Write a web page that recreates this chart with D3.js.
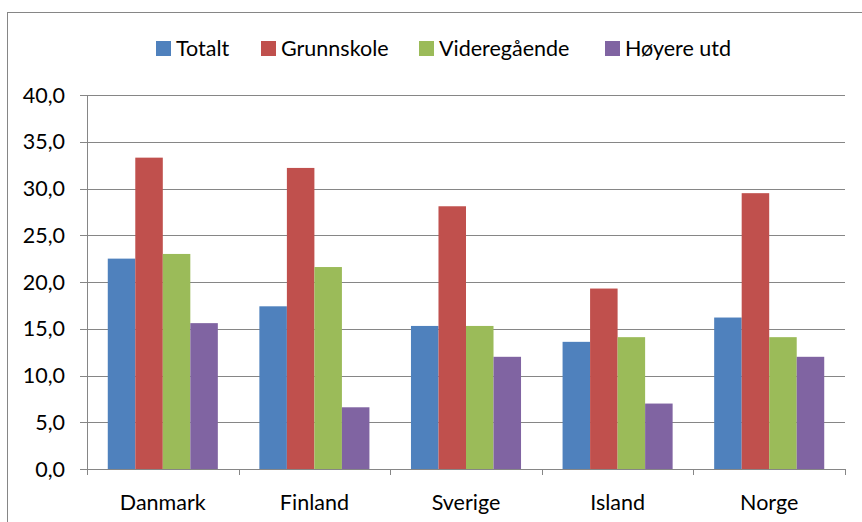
<!DOCTYPE html>
<html>
<head>
<meta charset="utf-8">
<script src="https://cdn.jsdelivr.net/npm/d3@7"></script>
<style>
  body { margin: 0; background: #fff; }
  text { font-family: Lato, "Open Sans", sans-serif; fill: #000; }
</style>
</head>
<body>
<svg id="chart" width="862" height="522"></svg>
<script>
// data
const countries = ['Danmark', 'Finland', 'Sverige', 'Island', 'Norge'];
const seriesNames = ['Totalt', 'Grunnskole', 'Videregående', 'Høyere utd'];
const totalt     = [22.5, 17.4, 15.3, 13.6, 16.2];
const grunnskole = [33.3, 32.2, 28.1, 19.3, 29.5];
const videregaende = [23.0, 21.6, 15.3, 14.1, 14.1];
const hoyere     = [15.6, 6.6, 12.0, 7.0, 12.0];
const yTicks = [0, 5, 10, 15, 20, 25, 30, 35, 40];

const colors = ['#4F81BD', '#C0504D', '#9BBB59', '#8064A2'];
const allSeries = [totalt, grunnskole, videregaende, hoyere];

const svg = d3.select('#chart');
const margin = { top: 95, left: 87, right: 17, bottom: 53 };
const width = 862, height = 522;
const fontSize = '21.5px';

// outer chart frame (cut off on right and bottom like the screenshot)
svg.append('rect')
  .attr('x', 7.5).attr('y', 12.5)
  .attr('width', 900).attr('height', 600)
  .attr('fill', 'none').attr('stroke', '#868686');

const x = d3.scaleBand()
  .domain(countries)
  .range([margin.left, width - margin.right]);

const y = d3.scaleLinear()
  .domain([0, 40])
  .range([height - margin.bottom, margin.top]);

const inner = d3.scaleBand()
  .domain(seriesNames)
  .range([0, x.bandwidth() * 0.726]);
const offset = x.bandwidth() * (1 - 0.726) / 2;

// gridlines
svg.append('g')
  .selectAll('line')
  .data(yTicks)
  .join('line')
    .attr('x1', margin.left - 7)
    .attr('x2', width - margin.right)
    .attr('y1', d => Math.round(y(d)) + 0.5)
    .attr('y2', d => Math.round(y(d)) + 0.5)
    .attr('stroke', '#868686')
    .attr('stroke-width', 1);

// y labels
svg.append('g')
  .selectAll('text')
  .data(yTicks)
  .join('text')
    .attr('x', margin.left - 22)
    .attr('y', d => y(d))
    .attr('dy', '0.35em')
    .attr('text-anchor', 'end')
    .style('font-size', fontSize)
    .text(d => d3.format('.1f')(d).replace('.', ','));

// bars
const groups = svg.append('g')
  .selectAll('g')
  .data(countries)
  .join('g')
    .attr('transform', d => `translate(${x(d) + offset},0)`);

groups.selectAll('rect')
  .data((d, i) => seriesNames.map((s, j) => ({ s: s, v: allSeries[j][i], c: colors[j] })))
  .join('rect')
    .attr('x', d => inner(d.s))
    .attr('width', inner.bandwidth())
    .attr('y', d => y(d.v))
    .attr('height', d => y(0) - y(d.v))
    .attr('fill', d => d.c);

// y axis line
svg.append('line')
  .attr('x1', margin.left + 0.5).attr('x2', margin.left + 0.5)
  .attr('y1', margin.top).attr('y2', y(0) + 6)
  .attr('stroke', '#868686');

// x axis line and ticks
svg.append('line')
  .attr('x1', margin.left).attr('x2', width - margin.right)
  .attr('y1', Math.round(y(0)) + 0.5).attr('y2', Math.round(y(0)) + 0.5)
  .attr('stroke', '#868686');

const boundaries = countries.map(d => x(d)).concat([x(countries[countries.length - 1]) + x.bandwidth()]);
svg.append('g')
  .selectAll('line')
  .data(boundaries)
  .join('line')
    .attr('x1', d => Math.round(d) + 0.5)
    .attr('x2', d => Math.round(d) + 0.5)
    .attr('y1', y(0))
    .attr('y2', y(0) + 6)
    .attr('stroke', '#868686');

// category labels
svg.append('g')
  .selectAll('text')
  .data(countries)
  .join('text')
    .attr('x', d => x(d) + x.bandwidth() / 2)
    .attr('y', y(0) + 41)
    .attr('text-anchor', 'middle')
    .style('font-size', fontSize)
    .text(d => d);

// legend
const legendX = [156, 261, 419, 605];
const legend = svg.append('g')
  .selectAll('g')
  .data(seriesNames)
  .join('g')
    .attr('transform', (d, i) => `translate(${legendX[i]},48)`);

legend.append('rect')
  .attr('x', 0).attr('y', -7)
  .attr('width', 15).attr('height', 15)
  .attr('fill', (d, i) => colors[i]);

legend.append('text')
  .attr('x', 20)
  .attr('dy', '0.35em')
  .style('font-size', fontSize)
  .text(d => d);
</script>
</body>
</html>
